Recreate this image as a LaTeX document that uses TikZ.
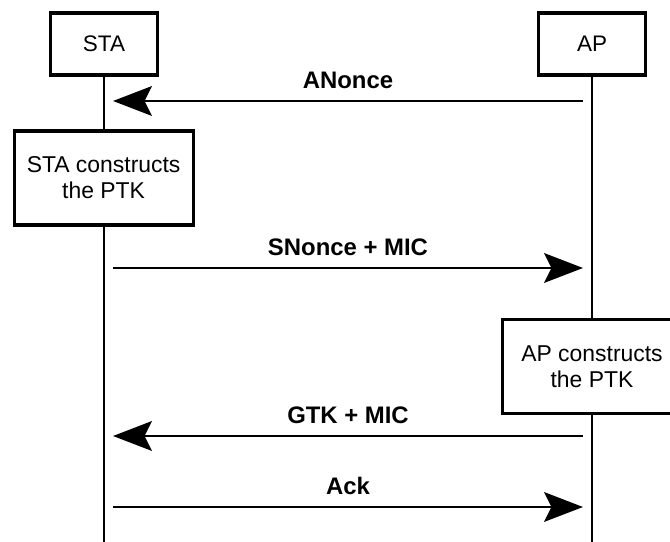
\documentclass[tikz,border=0pt]{standalone}
\usepackage{fontspec}
\setmainfont{Liberation Sans}
\usetikzlibrary{arrows.meta}

\tikzset{
  head/.style={draw, line width=2.2pt, minimum width=2.675cm, minimum height=1.55cm,
    font=\fontsize{16}{18}\selectfont},
  actbox/.style={draw, fill=white, line width=2.2pt, minimum width=4.475cm, minimum height=2.35cm,
    align=center, font=\fontsize{16.3}{18.5}\selectfont},
  msg/.style={line width=2.1pt, -{Stealth[length=0.97cm, width=0.74cm, inset=0.18cm]},
    shorten >=0.225cm, shorten <=0.225cm},
  msglabel/.style={font=\bfseries\fontsize{17}{19}\selectfont}
}

\begin{document}
\begin{tikzpicture}
  \useasboundingbox (0,0) rectangle (16.75,13.55);
  \clip (0,0) rectangle (16.75,13.55);
  % heads
  \node[head] (sta) at (2.6,12.45) {STA};
  \node[head] (ap) at (14.8,12.45) {AP};
  % points on the lifelines
  \coordinate (sta-end) at (2.6,0);
  \coordinate (ap-end) at (14.8,0);
  \coordinate (sta-m1) at (2.6,11.025);
  \coordinate (ap-m1) at (14.8,11.025);
  \coordinate (sta-m2) at (2.6,6.85);
  \coordinate (ap-m2) at (14.8,6.85);
  \coordinate (sta-m3) at (2.6,2.65);
  \coordinate (ap-m3) at (14.8,2.65);
  \coordinate (sta-m4) at (2.6,0.875);
  \coordinate (ap-m4) at (14.8,0.875);
  % lifelines
  \draw[line width=2.1pt] (sta) -- (sta-end);
  \draw[line width=2.1pt] (ap) -- (ap-end);
  % actions
  \node[actbox] (stabox) at (2.59,9.1) {STA constructs\\the PTK};
  \node[actbox] (apbox) at (14.8,4.39) {AP constructs\\the PTK};
  % messages
  \draw[msg] (ap-m1) -- (sta-m1);
  \node[msglabel] (anonce) at (8.7,11.55) {ANonce};
  \draw[msg] (sta-m2) -- (ap-m2);
  \node[msglabel] (snonce) at (8.7,7.37) {SNonce + MIC};
  \draw[msg] (ap-m3) -- (sta-m3);
  \node[msglabel] (gtk) at (8.7,3.17) {GTK + MIC};
  \draw[msg] (sta-m4) -- (ap-m4);
  \node[msglabel] (ack) at (8.7,1.4) {Ack};
\end{tikzpicture}
\end{document}
